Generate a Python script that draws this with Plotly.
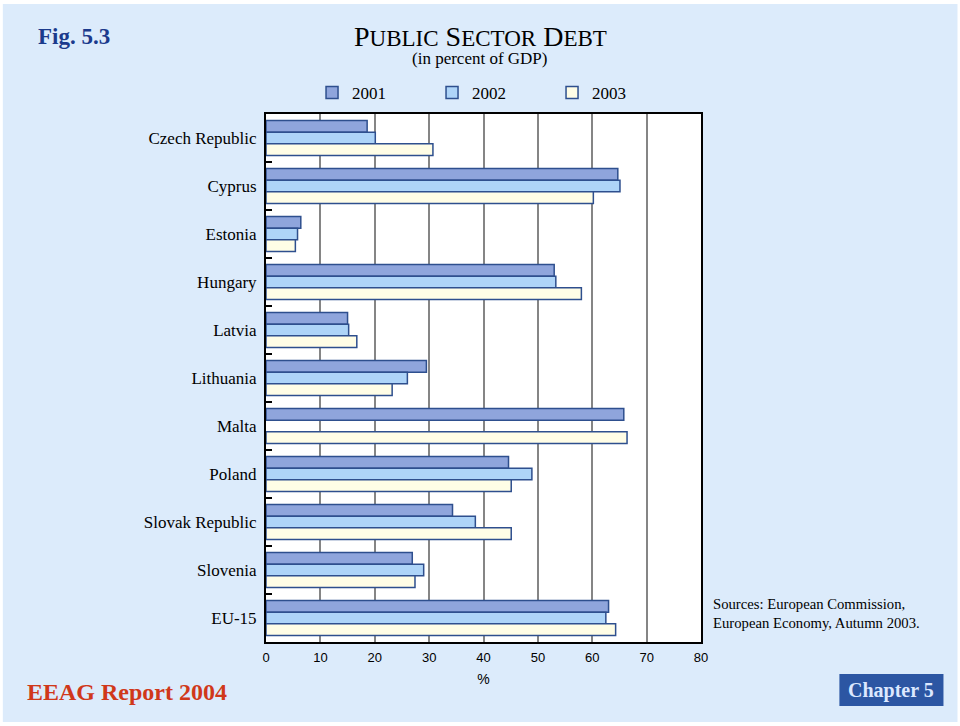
import plotly.graph_objects as go

countries = ["Czech Republic", "Cyprus", "Estonia", "Hungary", "Latvia", "Lithuania",
             "Malta", "Poland", "Slovak Republic", "Slovenia", "EU-15"]
years = ["2001", "2002", "2003"]
debt_2001 = [18.6, 64.7, 6.4, 53.0, 15.0, 29.5, 65.8, 44.6, 34.3, 26.9, 63.0]
debt_2002 = [20.1, 65.1, 5.8, 53.3, 15.2, 26.0, None, 48.9, 38.5, 29.0, 62.5]
debt_2003 = [30.7, 60.2, 5.4, 58.0, 16.7, 23.2, 66.4, 45.1, 45.1, 27.4, 64.3]
x_ticks = [0, 10, 20, 30, 40, 50, 60, 70, 80]

series = [debt_2001, debt_2002, debt_2003]
fills = ["#8FA5DC", "#AED4F8", "#FFFDE6"]
edge = "#2E4F8E"
page_bg = "#DCEBFB"
serif = "Liberation Serif, Times New Roman, serif"
sans = "Liberation Sans, Arial, sans-serif"

W, H = 960, 726
L, R, T, B = 266, 700.7, 114, 642


def px(x):
    return (x - L) / (R - L)


def py(y):
    return (B - y) / (B - T)


fig = go.Figure()
for name, vals, col in zip(years, series, fills):
    fig.add_trace(go.Bar(
        y=countries, x=vals, name=name, orientation="h",
        marker=dict(color=col, line=dict(color=edge, width=1.5)),
    ))

shapes = [
    # white page edges
    dict(type="rect", xref="paper", yref="paper", x0=px(0), x1=px(W), y0=py(0), y1=py(4),
         fillcolor="white", line_width=0, layer="below"),
    dict(type="rect", xref="paper", yref="paper", x0=px(0), x1=px(W), y0=py(722), y1=py(H),
         fillcolor="white", line_width=0, layer="below"),
    dict(type="rect", xref="paper", yref="paper", x0=px(0), x1=px(3), y0=py(H), y1=py(0),
         fillcolor="white", line_width=0, layer="below"),
    dict(type="rect", xref="paper", yref="paper", x0=px(957), x1=px(W), y0=py(H), y1=py(0),
         fillcolor="white", line_width=0, layer="below"),
    # Chapter box
    dict(type="rect", xref="paper", yref="paper", x0=px(839), x1=px(943), y0=py(706), y1=py(674),
         fillcolor="#2C56A3", line_width=0, layer="above"),
]

annotations = [
    dict(text="<b>Fig. 5.3</b>", x=px(74), y=py(36), xref="paper", yref="paper", showarrow=False,
         font=dict(family=serif, size=23, color="#1B3A8C"), xanchor="center", yanchor="middle"),
    dict(text='P<span style="font-size:23px">UBLIC</span> S<span style="font-size:23px">ECTOR</span> D<span style="font-size:23px">EBT</span>',
         x=px(480), y=py(36), xref="paper", yref="paper", showarrow=False,
         font=dict(family=serif, size=28, color="black"), xanchor="center", yanchor="middle"),
    dict(text="(in percent of GDP)", x=px(480), y=py(58), xref="paper", yref="paper", showarrow=False,
         font=dict(family=serif, size=17, color="black"), xanchor="center", yanchor="middle"),
    dict(text="Sources: European Commission,<br>European Economy, Autumn 2003.",
         x=px(711), y=py(613), xref="paper", yref="paper", showarrow=False, align="left",
         font=dict(family=serif, size=14.7, color="black"), xanchor="left", yanchor="middle"),
    dict(text="<b>EEAG Report 2004</b>", x=px(127), y=py(692), xref="paper", yref="paper", showarrow=False,
         font=dict(family=serif, size=24, color="#D0381A"), xanchor="center", yanchor="middle"),
    dict(text="<b>Chapter 5</b>", x=px(891), y=py(690), xref="paper", yref="paper", showarrow=False,
         font=dict(family=serif, size=20, color="#DCE8FF"), xanchor="center", yanchor="middle"),
]

fig.update_layout(
    width=W, height=H,
    margin=dict(l=L, r=W - R, t=T, b=H - B, pad=0),
    paper_bgcolor=page_bg, plot_bgcolor="white",
    barmode="group", bargap=0.27, bargroupgap=0,
    showlegend=True,
    legend=dict(orientation="h", x=px(312), y=py(93), xanchor="left", yanchor="middle",
                font=dict(family=serif, size=17, color="black"), bgcolor="rgba(0,0,0,0)",
                entrywidth=75, traceorder="normal"),
    shapes=shapes, annotations=annotations,
    xaxis=dict(range=[0, 80], tickvals=x_ticks, ticktext=[str(v) for v in x_ticks],
               showgrid=True, gridcolor="#858585", gridwidth=1.5, zeroline=False,
               showline=True, linecolor="black", linewidth=2, mirror=True, ticks="",
               tickfont=dict(family=sans, size=13, color="black"), ticklabelstandoff=2,
               title=dict(text="%", font=dict(family=sans, size=14, color="black"), standoff=11)),
    yaxis=dict(categoryorder="array", categoryarray=countries, autorange="reversed",
               showgrid=False, zeroline=False, showline=True, linecolor="black", linewidth=2,
               mirror=True, ticks="inside", tickson="boundaries", ticklen=6, tickcolor="black",
               tickwidth=1.5, tickfont=dict(family=serif, size=17, color="black"),
               ticklabelstandoff=4),
)

fig.write_html("out.html")
